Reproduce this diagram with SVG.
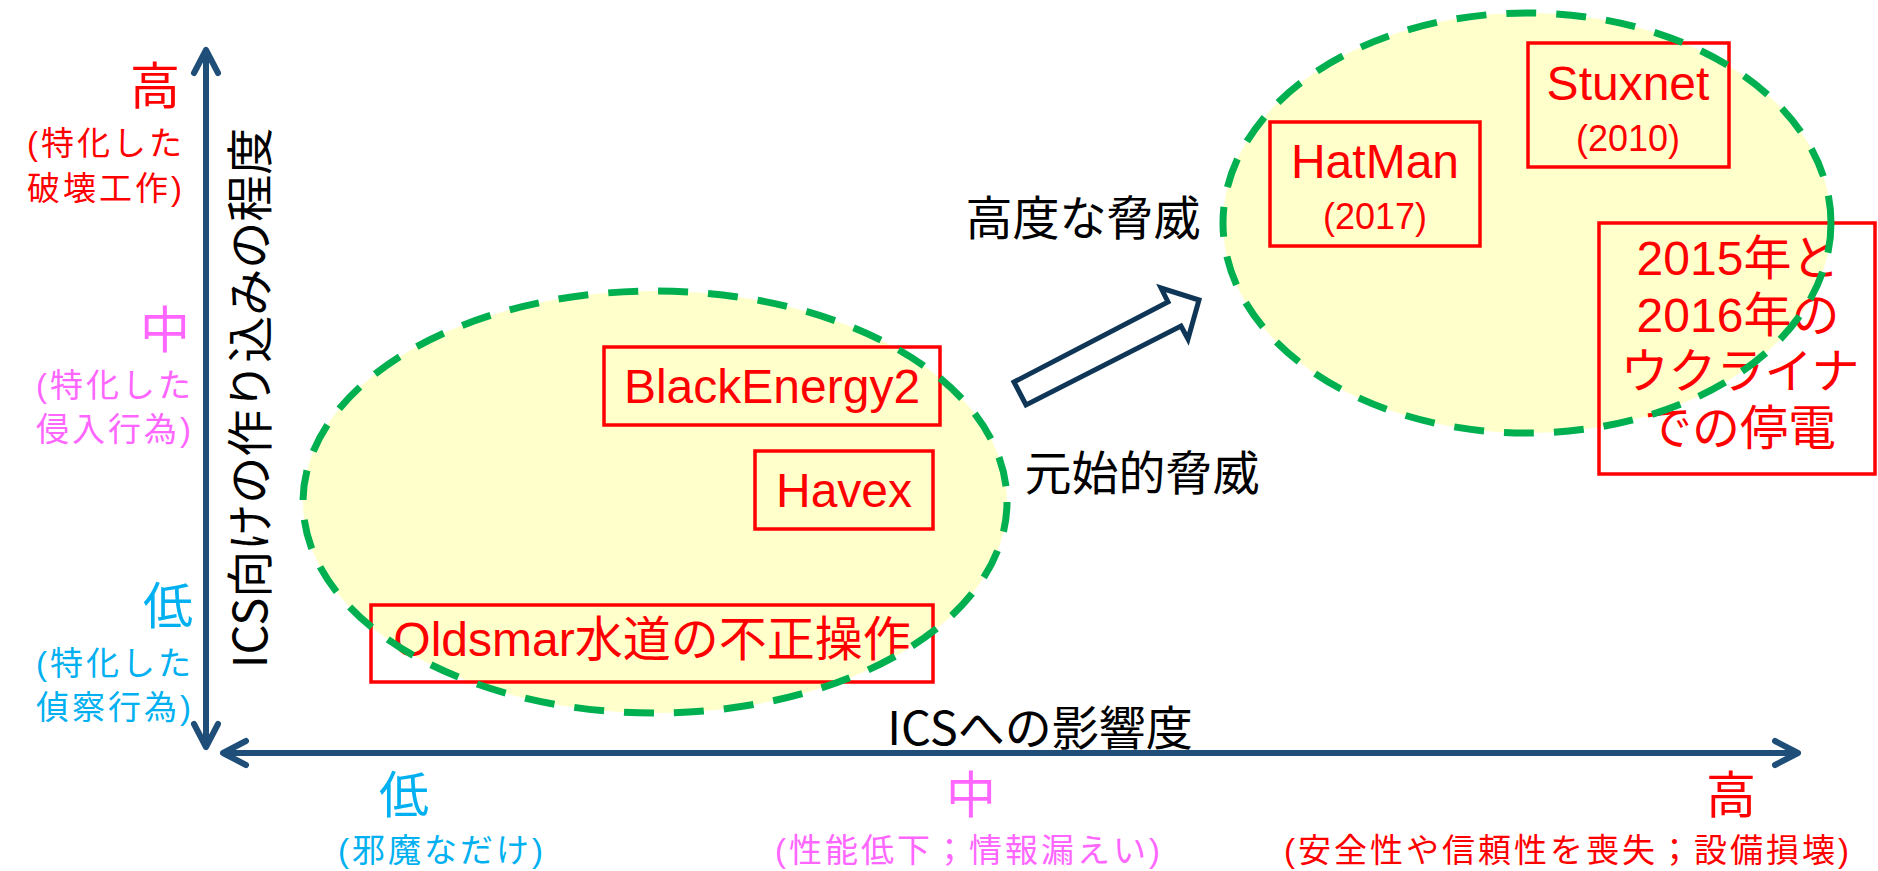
<svg xmlns="http://www.w3.org/2000/svg" xmlns:xlink="http://www.w3.org/1999/xlink" width="1878" height="871" viewBox="0 0 1878 871">
<style>
text{font-family:"Liberation Sans","Noto Sans CJK JP",sans-serif;}
.jp{font-family:"Noto Sans CJK JP","Liberation Sans",sans-serif;}
.big{font-size:50px;}
.sub{font-size:33px;letter-spacing:3px;}
.red{fill:#FF0000;}
.pink{fill:#FF66FF;}
.blue{fill:#00B0F0;}
.blk{fill:#000000;font-size:47px;}
.axis{fill:none;stroke:#1F4E79;stroke-width:6;marker-start:url(#chev);marker-end:url(#chev);}
.regionFill{fill:#FFFFCC;stroke:none;}
.regionLine{fill:none;stroke:#00B050;stroke-width:7;stroke-dasharray:30 20;}
.box{fill:none;stroke:#FF0000;stroke-width:3.5;}
.lbl{fill:#FF0000;font-size:48px;text-anchor:middle;}
.yr{fill:#FF0000;font-size:36px;text-anchor:middle;}
.blockArrow{fill:#FFFFFF;stroke:#0F3657;stroke-width:5;stroke-linejoin:miter;}
</style>
<defs>
<marker id="chev" viewBox="-30 -16 34 32" refX="0" refY="0" markerWidth="34" markerHeight="32" markerUnits="userSpaceOnUse" orient="auto-start-reverse">
<path d="M-23,-12 L0,0 L-23,12" fill="none" stroke="#1F4E79" stroke-width="6" stroke-linecap="round" stroke-linejoin="round"/>
</marker>
<ellipse id="e1" cx="655" cy="502" rx="352" ry="211"/>
<ellipse id="e2" cx="1527" cy="223" rx="304" ry="210"/>
</defs>

<g id="connectors">
<path class="axis" d="M206,747 L206,50"/>
<path class="axis" d="M223,753 L1798,753"/>
<polygon class="blockArrow" points="1014,382 1168,302 1161,288 1199,300 1188,339 1181,326 1026,405"/>
</g>

<g id="y-axis-labels">
<text class="jp" x="0" y="0" transform="translate(267,398) rotate(-90)" text-anchor="middle" style="font-size:47px;fill:#000">ICS向けの作り込みの程度</text>
<g id="y-high" class="jp red" text-anchor="end">
<text class="big" x="180" y="104">高</text>
<text class="sub" x="185" y="155">(特化した</text>
<text class="sub" x="185" y="200">破壊工作)</text>
</g>
<g id="y-mid" class="jp pink" text-anchor="end">
<text class="big" x="190" y="348">中</text>
<text class="sub" x="194" y="397">(特化した</text>
<text class="sub" x="194" y="441">侵入行為)</text>
</g>
<g id="y-low" class="jp blue" text-anchor="end">
<text class="big" x="193" y="624">低</text>
<text class="sub" x="194" y="675">(特化した</text>
<text class="sub" x="194" y="719">偵察行為)</text>
</g>
</g>

<g id="x-axis-labels">
<text class="jp blk" x="1040" y="745" text-anchor="middle">ICSへの影響度</text>
<g id="x-low" class="jp blue" text-anchor="middle">
<text class="big" x="404" y="813">低</text>
<text class="sub" x="442" y="862">(邪魔なだけ)</text>
</g>
<g id="x-mid" class="jp pink" text-anchor="middle">
<text class="big" x="971" y="813">中</text>
<text class="sub" x="969" y="862">(性能低下；情報漏えい)</text>
</g>
<g id="x-high" class="jp red" text-anchor="middle">
<text class="big" x="1731" y="813">高</text>
<text class="sub" x="1568" y="862">(安全性や信頼性を喪失；設備損壊)</text>
</g>
</g>

<g id="region-primitive">
<use xlink:href="#e1" href="#e1" class="regionFill"/>
</g>
<g id="region-advanced">
<use xlink:href="#e2" href="#e2" class="regionFill"/>
</g>

<g id="node-blackenergy2">
<rect class="box" x="604" y="347" width="336" height="78"/>
<text class="lbl" x="772" y="403">BlackEnergy2</text>
</g>
<g id="node-havex">
<rect class="box" x="755" y="451" width="178" height="78"/>
<text class="lbl" x="844" y="507">Havex</text>
</g>
<g id="node-oldsmar">
<rect class="box" x="371" y="605" width="562" height="77"/>
<text class="lbl" x="652" y="656">Oldsmar水道の不正操作</text>
</g>
<g id="node-hatman">
<rect class="box" x="1270" y="122" width="210" height="124"/>
<text class="lbl" x="1375" y="178">HatMan</text>
<text class="yr" x="1375" y="229">(2017)</text>
</g>
<g id="node-stuxnet">
<rect class="box" x="1528" y="43" width="201" height="124"/>
<text class="lbl" x="1628" y="100">Stuxnet</text>
<text class="yr" x="1628" y="151">(2010)</text>
</g>
<g id="node-ukraine">
<rect class="box" x="1599" y="223" width="276" height="251"/>
<text class="lbl" x="1738" y="275">2015年と</text>
<text class="lbl" x="1738" y="332">2016年の</text>
<text class="lbl" x="1740" y="388">ウクライナ</text>
<text class="lbl" x="1740" y="445">での停電</text>
</g>

<g id="region-primitive-outline">
<use xlink:href="#e1" href="#e1" class="regionLine"/>
</g>
<g id="region-advanced-outline">
<use xlink:href="#e2" href="#e2" class="regionLine"/>
</g>

<g id="label-primitive">
<text class="jp blk" x="1142" y="490" text-anchor="middle">元始的脅威</text>
</g>
<g id="label-advanced">
<text class="jp blk" x="1083" y="235" text-anchor="middle">高度な脅威</text>
</g>
</svg>
